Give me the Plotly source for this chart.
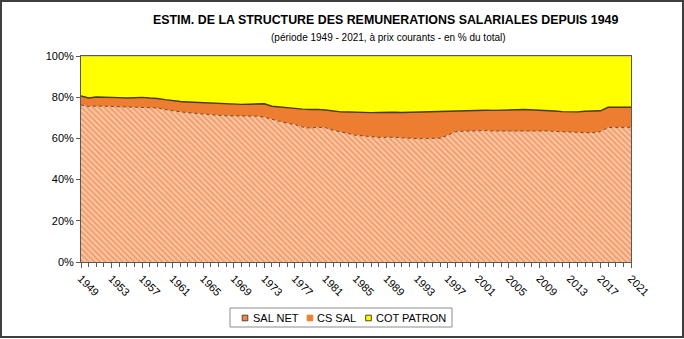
import plotly.graph_objects as go

years = list(range(1949, 2022))

sal_net = [76.2, 75.5, 75.7, 75.6, 75.5, 75.3, 75.2, 75.2, 75.3, 75.0,
           74.8, 74.0, 73.3, 72.9, 72.5, 72.1, 71.8, 71.5, 71.2, 71.0,
           70.9, 70.9, 70.9, 70.8, 70.3, 69.2, 68.3, 67.4, 66.7, 65.5,
           65.0, 65.4, 65.2, 64.0, 63.2, 62.2, 61.5, 61.2, 60.8, 60.5,
           60.5, 60.6, 60.3, 60.0, 59.9, 59.9, 59.9, 60.1, 61.5, 63.2,
           63.5, 63.7, 63.9, 63.8, 63.6, 63.6, 63.7, 63.6, 63.8, 63.8,
           63.7, 63.6, 63.4, 63.2, 62.9, 62.8, 62.8, 62.8, 63.3, 65.3,
           65.4, 65.4, 65.4]

cs_sal = [4.4, 4.1, 4.4, 4.5, 4.5, 4.5, 4.4, 4.6, 4.6, 4.6,
          4.6, 4.8, 4.9, 5.0, 5.2, 5.4, 5.5, 5.6, 5.6, 5.6,
          5.5, 5.6, 5.7, 5.9, 6.5, 6.4, 6.9, 7.4, 7.9, 8.7,
          9.0, 8.7, 8.6, 9.3, 9.7, 10.6, 11.1, 11.4, 11.7, 12.1,
          12.3, 12.1, 12.3, 12.7, 12.9, 12.9, 13.0, 12.9, 11.7, 10.2,
          10.0, 10.0, 9.9, 9.9, 10.0, 10.2, 10.2, 10.3, 10.2, 10.1,
          10.1, 10.0, 9.9, 9.8, 9.9, 10.1, 10.4, 10.6, 10.1, 9.8,
          9.7, 9.7, 9.7]

cot_patron = [19.4, 20.4, 19.9, 19.9, 20.0, 20.2, 20.4, 20.2, 20.1, 20.4,
              20.6, 21.2, 21.8, 22.1, 22.3, 22.5, 22.7, 22.9, 23.2, 23.4,
              23.6, 23.5, 23.4, 23.3, 23.2, 24.4, 24.8, 25.2, 25.4, 25.8,
              26.0, 25.9, 26.2, 26.7, 27.1, 27.2, 27.4, 27.4, 27.5, 27.4,
              27.2, 27.3, 27.4, 27.3, 27.2, 27.2, 27.1, 27.0, 26.8, 26.6,
              26.5, 26.3, 26.2, 26.3, 26.4, 26.2, 26.1, 26.1, 26.0, 26.1,
              26.2, 26.4, 26.7, 27.0, 27.2, 27.1, 26.8, 26.6, 26.6, 24.9,
              24.9, 24.9, 24.9]

series_names = ["SAL NET", "CS SAL", "COT PATRON"]
legend_fill = ["#E8884E", "#ED7D31", "#FFFF00"]
legend_edge = ["#5a4030", "#ED7D31", "#4a4a10"]

tick_years = list(range(1949, 2022, 4))
y_ticks = [0, 20, 40, 60, 80, 100]

W, H = 684, 339
ML, MR, MT, MB = 81, 53, 56, 77
PW, PH = W - ML - MR, H - MT - MB


def px_x(p):
    return (p - ML) / PW


def px_y(p):
    return (H - MB - p) / PH


fig = go.Figure()

fig.add_trace(go.Scatter(
    x=years, y=sal_net, name=series_names[0], mode="lines",
    stackgroup="one", line=dict(color="#6b4a2a", width=1, dash="dot"),
    fillcolor="#F39A63",
    fillpattern=dict(shape="\\", fgcolor="#EC7030", bgcolor="#FAC9A8",
                     size=4, solidity=0.5),
))
fig.add_trace(go.Scatter(
    x=years, y=cs_sal, name=series_names[1], mode="lines",
    stackgroup="one", line=dict(color="#4a3a1c", width=1.4),
    fillcolor="#ED7D31",
))
fig.add_trace(go.Scatter(
    x=years, y=cot_patron, name=series_names[2], mode="lines",
    stackgroup="one", line=dict(color="#7f7f7f", width=0.5),
    fillcolor="#FFFF00",
))

# Legend drawn as a framed box with small square keys (Excel style)
legend_box = dict(type="rect", xref="paper", yref="paper",
                  x0=px_x(230), x1=px_x(452), y0=px_y(308), y1=px_y(327),
                  line=dict(color="#8c8c8c", width=1), fillcolor="white",
                  layer="above")
key_centers = [245, 310, 368.5]
text_starts = [251, 314.5, 373.5]
leg_y = 318
shapes = [legend_box]
annotations = []
for name, cx, tx, fc, ec in zip(series_names, key_centers, text_starts,
                                legend_fill, legend_edge):
    shapes.append(dict(type="rect", xref="paper", yref="paper",
                       x0=px_x(cx - 2.8), x1=px_x(cx + 2.8),
                       y0=px_y(leg_y - 2.8), y1=px_y(leg_y + 2.8),
                       line=dict(color=ec, width=1), fillcolor=fc,
                       layer="above"))
    annotations.append(dict(text=name, xref="paper", yref="paper",
                            x=px_x(tx), y=px_y(leg_y), xanchor="left",
                            yanchor="middle", showarrow=False,
                            font=dict(size=11, color="#000")))

annotations += [
    dict(text="<b>ESTIM. DE LA STRUCTURE DES REMUNERATIONS SALARIALES DEPUIS 1949</b>",
         xref="paper", yref="paper", x=px_x(386), y=px_y(20),
         xanchor="center", yanchor="middle", showarrow=False,
         font=dict(size=12.4, color="#000")),
    dict(text="(période 1949 - 2021, à prix courants - en % du total)",
         xref="paper", yref="paper", x=px_x(388), y=px_y(37),
         xanchor="center", yanchor="middle", showarrow=False,
         font=dict(size=10, color="#000")),
]

shapes.append(dict(type="rect", xref="paper", yref="paper",
                   x0=px_x(1), x1=px_x(683), y0=px_y(1), y1=px_y(337),
                   line=dict(color="#3f3f3f", width=2), layer="above"))

fig.update_layout(
    width=W, height=H,
    margin=dict(l=ML, r=MR, t=MT, b=MB),
    paper_bgcolor="white", plot_bgcolor="white",
    font=dict(family="Liberation Sans, Arial, sans-serif", size=11, color="#000"),
    showlegend=False,
    xaxis=dict(
        range=[1949, 2021], tickmode="array", tickvals=tick_years,
        ticktext=[str(y) for y in tick_years], tickangle=45,
        ticks="outside", ticklen=5, tickcolor="#595959",
        showline=True, linecolor="#595959", linewidth=1, mirror=True,
        showgrid=False, zeroline=False,
        minor=dict(dtick=1, tick0=1949, ticks="outside", ticklen=4,
                   tickcolor="#595959", showgrid=False),
        tickfont=dict(size=11),
    ),
    yaxis=dict(
        range=[0, 100], tickmode="array", tickvals=y_ticks,
        ticktext=[f"{v}%" for v in y_ticks],
        ticks="outside", ticklen=4, tickcolor="#595959",
        showline=True, linecolor="#595959", linewidth=1, mirror=True,
        showgrid=False, zeroline=False, tickfont=dict(size=11),
    ),
    annotations=annotations,
    shapes=shapes,
)

fig.write_html("out.html")
